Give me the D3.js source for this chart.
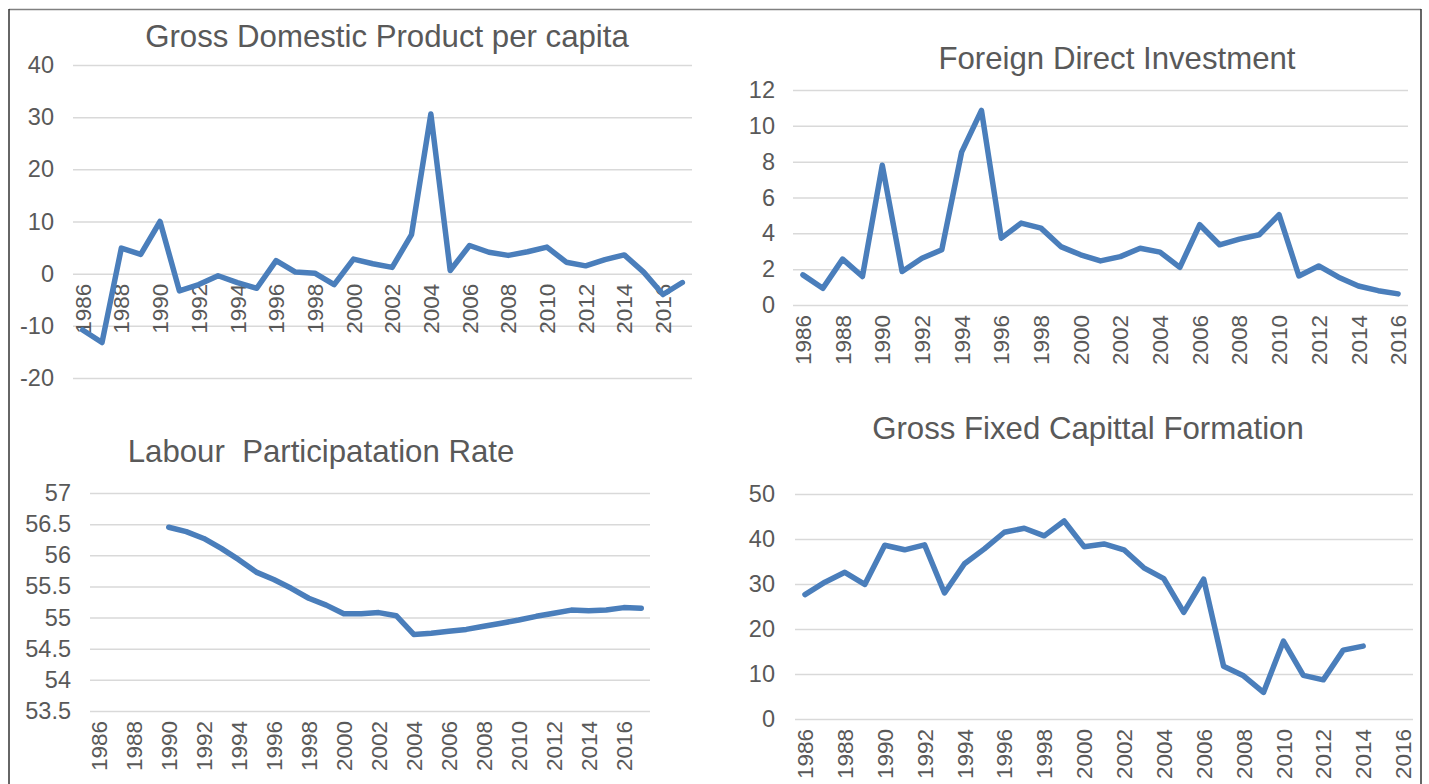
<!DOCTYPE html>
<html><head><meta charset="utf-8">
<script src="https://cdn.jsdelivr.net/npm/d3@7"></script>
<style>
body{margin:0;background:#fff;}
svg text{font-family:"Liberation Sans",Arial,sans-serif;fill:#595959;}
</style>
</head><body>
<svg id="c" width="1429" height="784"></svg>
<script>
// ---- data ----
const years32 = [1986,1987,1988,1989,1990,1991,1992,1993,1994,1995,1996,1997,1998,1999,2000,2001,2002,2003,2004,2005,2006,2007,2008,2009,2010,2011,2012,2013,2014,2015,2016,2017];
const years31 = [1986,1987,1988,1989,1990,1991,1992,1993,1994,1995,1996,1997,1998,1999,2000,2001,2002,2003,2004,2005,2006,2007,2008,2009,2010,2011,2012,2013,2014,2015,2016];
const tickYears = [1986,1988,1990,1992,1994,1996,1998,2000,2002,2004,2006,2008,2010,2012,2014,2016];

const gdpValues = [-10.8,-13.2,4.9,3.7,10.0,-3.3,-2.1,-0.4,-1.7,-2.8,2.5,0.3,0.1,-2.1,2.8,1.9,1.2,7.5,30.6,0.6,5.4,4.1,3.5,4.2,5.1,2.2,1.5,2.7,3.6,0.3,-4.0,-1.7];
const gdpTicks = [-20,-10,0,10,20,30,40];

const fdiValues = [1.68,0.93,2.56,1.59,7.8,1.87,2.61,3.08,8.53,10.86,3.73,4.57,4.29,3.26,2.8,2.46,2.7,3.17,2.95,2.1,4.48,3.36,3.68,3.92,5.04,1.62,2.18,1.55,1.06,0.8,0.62];
const fdiTicks = [0,2,4,6,8,10,12];

const labourValues = [null,null,null,null,56.45,56.38,56.27,56.11,55.93,55.73,55.61,55.47,55.31,55.2,55.06,55.06,55.08,55.03,54.73,54.75,54.78,54.81,54.86,54.91,54.96,55.02,55.07,55.12,55.11,55.12,55.16,55.15];
const labourTicks = [53.5,54,54.5,55,55.5,56,56.5,57];

const gfcfValues = [27.65,30.4,32.6,29.9,38.6,37.6,38.7,28.0,34.5,37.8,41.5,42.4,40.7,44.0,38.3,38.9,37.6,33.6,31.2,23.7,31.1,11.7,9.6,5.9,17.3,9.7,8.7,15.3,16.2,null,null];
const gfcfTicks = [0,10,20,30,40,50];

// ---- drawing ----
const svg = d3.select("#c");
const LINE = "#4a7ebb";

// outer frame
svg.append("line").attr("x1",9).attr("x2",1421).attr("y1",9.5).attr("y2",9.5).attr("stroke","#808080").attr("stroke-width",1.5);
svg.append("line").attr("x1",9).attr("x2",9).attr("y1",9).attr("y2",784).attr("stroke","#333").attr("stroke-width",1.5);
svg.append("line").attr("x1",1421).attr("x2",1421).attr("y1",9).attr("y2",784).attr("stroke","#333").attr("stroke-width",1.5);

function panel(cfg){
  const g = svg.append("g");
  const x = d3.scaleBand().domain(cfg.years).range([cfg.x0, cfg.x1]).padding(0);
  const y = d3.scaleLinear().domain(cfg.domain).range([cfg.yb, cfg.yt]);
  const bw = x.bandwidth();

  // gridlines
  const grid = g.append("g").attr("transform",`translate(${cfg.x0},0)`)
    .call(d3.axisLeft(y).tickValues(cfg.ticks).tickSize(-(cfg.x1-cfg.x0)).tickFormat(""));
  grid.select(".domain").remove();
  grid.selectAll(".tick line").attr("stroke","#d9d9d9").attr("stroke-width",1.5);

  // y labels
  const ya = g.append("g").attr("transform",`translate(${cfg.labelRight},0)`)
    .call(d3.axisLeft(y).tickValues(cfg.ticks).tickSize(0).tickPadding(0).tickFormat(d=>String(d)));
  ya.select(".domain").remove();
  ya.selectAll("text").attr("font-size",23.5).attr("fill","#595959").attr("font-family","Liberation Sans, Arial, sans-serif");

  // x labels
  const yAxisPos = y(cfg.cross);
  const xa = g.append("g").attr("transform",`translate(0,${yAxisPos})`)
    .call(d3.axisBottom(x).tickValues(tickYears).tickSize(0).tickFormat(d=>String(d)));
  xa.select(".domain").remove();
  xa.selectAll("text")
    .attr("font-size",22.5).attr("fill","#595959").attr("font-family","Liberation Sans, Arial, sans-serif")
    .attr("transform","rotate(-90)")
    .attr("text-anchor","end")
    .attr("x",-10).attr("y",0).attr("dy","0.36em");

  // line
  const data = cfg.years.map((yr,i)=>({yr, v: cfg.values[i]}));
  const line = d3.line().defined(d=>d.v!=null).x(d=>x(d.yr)+bw/2).y(d=>y(d.v));
  g.append("path").datum(data).attr("d",line).attr("fill","none")
    .attr("stroke",LINE).attr("stroke-width",5.5).attr("stroke-linejoin","round").attr("stroke-linecap","round");

  // title
  g.append("text").attr("x",cfg.tx).attr("y",cfg.ty).attr("text-anchor","middle")
    .attr("font-size",31.2).attr("fill","#595959").style("white-space","pre").text(cfg.title);
}

panel({title:"Gross Domestic Product per capita", tx:387, ty:47,
  years:years32, values:gdpValues, ticks:gdpTicks, domain:[-20,40], cross:0,
  x0:73, x1:692, yt:65, yb:378, labelRight:54});
panel({title:"Foreign Direct Investment", tx:1117, ty:69,
  years:years31, values:fdiValues, ticks:fdiTicks, domain:[0,12], cross:0,
  x0:793, x1:1408, yt:90, yb:305, labelRight:775});
panel({title:"Labour\u00a0 Participatation Rate", tx:321, ty:462,
  years:years32, values:labourValues, ticks:labourTicks, domain:[53.5,57], cross:53.5,
  x0:90, x1:650, yt:493, yb:711, labelRight:71});
panel({title:"Gross Fixed Capittal Formation", tx:1088, ty:439,
  years:years31, values:gfcfValues, ticks:gfcfTicks, domain:[0,50], cross:0,
  x0:795, x1:1413, yt:494, yb:719, labelRight:775});
</script>
</body></html>
